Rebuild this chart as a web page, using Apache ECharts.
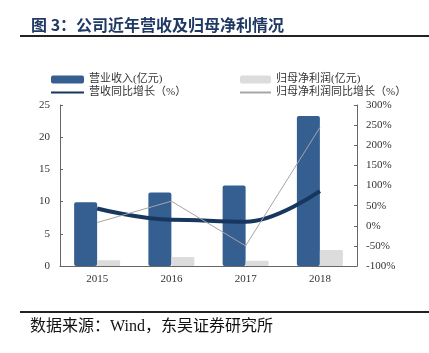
<!DOCTYPE html>
<html>
<head>
<meta charset="utf-8">
<script src="https://cdn.jsdelivr.net/npm/echarts@6/dist/echarts.min.js"></script>
<style>
  html, body { margin: 0; padding: 0; background: #fff; }
  #main { width: 429px; height: 353px; }
</style>
</head>
<body>
<div id="main"></div>
<script>
// 年份
const years = ['2015', '2016', '2017', '2018']
// 营业收入(亿元)
const revenue = [9.9, 11.4, 12.5, 23.3]
// 归母净利润(亿元)
const profit = [0.9, 1.4, 0.8, 2.5]
// 营收同比增长(%)
const revenueYoY = [43, 15, 10, 86]
// 归母净利润同比增长(%)
const profitYoY = [8, 61, -50, 244]

const fontFamily = '"Liberation Serif", "Noto Sans CJK SC", serif'
const myChart = echarts.init(document.getElementById('main'))

const option = {
  backgroundColor: '#fff',
  animation: false,
  textStyle: { fontFamily: fontFamily },
  title: {
    text: '图 3：公司近年营收及归母净利情况',
    left: 26,
    top: 12,
    textStyle: { fontSize: 16, fontWeight: 'bold', color: '#1F3864', fontFamily: '"Noto Sans CJK SC", sans-serif' }
  },
  graphic: [
    { type: 'rect', shape: { x: 20, y: 35, width: 409, height: 2 }, style: { fill: '#222' } },
    { type: 'rect', shape: { x: 20, y: 311, width: 409, height: 2 }, style: { fill: '#222' } },
    {
      type: 'text', left: 30, top: 319,
      style: { text: '数据来源：Wind，东吴证券研究所', fontSize: 16, fill: '#111', fontFamily: fontFamily }
    }
  ],
  legend: [
    {
      orient: 'vertical', left: 45, top: 69,
      itemWidth: 33, itemHeight: 8, itemGap: 2,
      textStyle: { fontSize: 11, color: '#333' },
      data: ['营业收入(亿元)', { name: '营收同比增长（%）', icon: 'inherit', itemStyle: { opacity: 0 } }]
    },
    {
      orient: 'vertical', left: 234, top: 69,
      itemWidth: 31, itemHeight: 8, itemGap: 2,
      textStyle: { fontSize: 11, color: '#333' },
      data: ['归母净利润(亿元)', { name: '归母净利润同比增长（%）', icon: 'inherit', itemStyle: { opacity: 0 } }]
    }
  ],
  grid: { left: 60, right: 72, top: 105, bottom: 87 },
  xAxis: {
    type: 'category',
    data: years,
    axisLine: { lineStyle: { color: '#666' } },
    axisTick: { inside: true, length: 4, lineStyle: { color: '#666' } },
    axisLabel: { color: '#333', fontSize: 11, margin: 8 }
  },
  yAxis: [
    {
      type: 'value', min: 0, max: 25, interval: 5,
      splitLine: { show: false },
      axisLine: { show: true, lineStyle: { color: '#666' } },
      axisTick: { show: true, inside: true, length: 3, lineStyle: { color: '#666' } },
      axisLabel: { color: '#333', fontSize: 11, margin: 10 }
    },
    {
      type: 'value', min: -100, max: 300, interval: 50,
      splitLine: { show: false },
      axisLine: { show: true, lineStyle: { color: '#666' } },
      axisTick: { show: true, inside: true, length: 3, lineStyle: { color: '#666' } },
      axisLabel: { color: '#333', fontSize: 11, margin: 9, formatter: '{value}%' }
    }
  ],
  series: [
    {
      name: '营业收入(亿元)',
      type: 'bar',
      barWidth: 23,
      barGap: '0%',
      itemStyle: { color: '#365F91', borderRadius: 2 },
      data: revenue
    },
    {
      name: '归母净利润(亿元)',
      type: 'bar',
      barWidth: 23,
      barGap: '0%',
      itemStyle: { color: '#DCDCDC', borderRadius: 1 },
      data: profit
    },
    {
      name: '营收同比增长（%）',
      type: 'line',
      yAxisIndex: 1,
      smooth: 0.4,
      smoothMonotone: 'x',
      symbol: 'none',
      lineStyle: { color: '#17375E', width: 4 },
      itemStyle: { color: '#17375E' },
      data: revenueYoY
    },
    {
      name: '归母净利润同比增长（%）',
      type: 'line',
      yAxisIndex: 1,
      symbol: 'none',
      lineStyle: { color: '#A6A6A6', width: 1 },
      itemStyle: { color: '#A6A6A6' },
      data: profitYoY
    }
  ]
}

myChart.setOption(option)
</script>
</body>
</html>
